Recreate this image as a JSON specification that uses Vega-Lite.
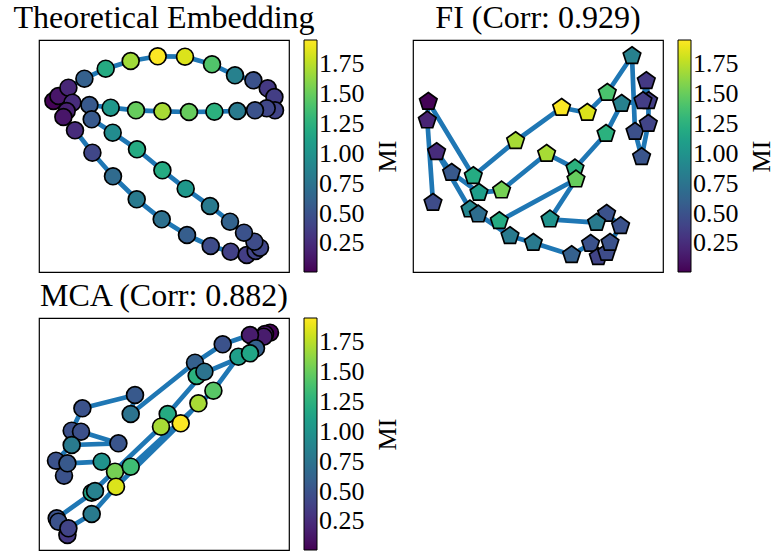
{
  "$schema": "https://vega.github.io/schema/vega-lite/v6.json",
  "background": "white",
  "padding": {"left": 12, "top": 1, "right": 0, "bottom": 0},
  "config": {
    "font": "Liberation Serif",
    "view": {"stroke": "black", "strokeWidth": 1.2},
    "title": {"font": "Liberation Serif", "fontSize": 32, "fontWeight": "normal", "anchor": "middle", "frame": "group", "baseline": "alphabetic", "offset": 5, "color": "black"},
    "legend": {"orient": "right", "offset": -96, "gradientLength": 232, "gradientThickness": 13, "gradientStrokeColor": "black", "gradientStrokeWidth": 1, "labelFont": "Liberation Serif", "labelFontSize": 26, "labelColor": "black", "labelOffset": 13, "labelOverlap": false, "padding": 0},
    "axis": {"titleFont": "Liberation Serif", "titleFontSize": 26, "titleFontWeight": "normal", "titleColor": "black"}
  },
  "columns": 2,
  "spacing": {"row": 46, "column": 124},
  "bounds": "flush",
  "resolve": {"scale": {"color": "independent"}, "legend": {"color": "independent"}},
  "concat": [
    {
      "width": 250, "height": 232,
      "title": "Theoretical Embedding",
      "data": {"values": [
        {"i":1,"x":14.4,"y":171.0,"mi":0.02},
        {"i":2,"x":19.4,"y":176.0,"mi":0.12},
        {"i":3,"x":29.4,"y":184.3,"mi":0.22},
        {"i":4,"x":45.4,"y":193.3,"mi":0.6},
        {"i":5,"x":66.7,"y":203.3,"mi":1.2},
        {"i":6,"x":91.7,"y":211.0,"mi":1.68},
        {"i":7,"x":118.7,"y":215.7,"mi":1.95},
        {"i":8,"x":146.0,"y":215.3,"mi":1.85},
        {"i":9,"x":173.0,"y":207.7,"mi":1.42},
        {"i":10,"x":196.0,"y":196.7,"mi":0.85},
        {"i":11,"x":214.4,"y":191.7,"mi":0.5},
        {"i":12,"x":228.7,"y":183.7,"mi":0.33},
        {"i":13,"x":235.4,"y":175.0,"mi":0.36},
        {"i":14,"x":236.0,"y":161.7,"mi":0.4},
        {"i":15,"x":227.7,"y":163.7,"mi":0.42},
        {"i":16,"x":216.0,"y":161.7,"mi":0.5},
        {"i":17,"x":198.4,"y":161.0,"mi":0.8},
        {"i":18,"x":175.4,"y":160.3,"mi":1.25},
        {"i":19,"x":150.0,"y":160.0,"mi":1.5},
        {"i":20,"x":123.4,"y":160.7,"mi":1.7},
        {"i":21,"x":97.0,"y":161.7,"mi":1.5},
        {"i":22,"x":71.7,"y":164.3,"mi":1.05},
        {"i":23,"x":50.4,"y":167.0,"mi":0.55},
        {"i":24,"x":33.4,"y":169.3,"mi":0.25},
        {"i":25,"x":27.7,"y":161.0,"mi":0.18},
        {"i":26,"x":24.4,"y":155.0,"mi":0.12},
        {"i":27,"x":36.0,"y":141.7,"mi":0.25},
        {"i":28,"x":53.4,"y":119.3,"mi":0.42},
        {"i":29,"x":74.0,"y":95.7,"mi":0.68},
        {"i":30,"x":97.7,"y":72.7,"mi":0.8},
        {"i":31,"x":122.7,"y":52.7,"mi":0.72},
        {"i":32,"x":148.0,"y":37.0,"mi":0.58},
        {"i":33,"x":171.7,"y":26.0,"mi":0.45},
        {"i":34,"x":191.7,"y":20.3,"mi":0.38},
        {"i":35,"x":207.7,"y":17.0,"mi":0.36},
        {"i":36,"x":216.7,"y":21.0,"mi":0.4},
        {"i":37,"x":221.0,"y":24.3,"mi":0.42},
        {"i":38,"x":215.4,"y":30.3,"mi":0.45},
        {"i":39,"x":205.0,"y":39.3,"mi":0.5},
        {"i":40,"x":191.0,"y":50.3,"mi":0.62},
        {"i":41,"x":171.0,"y":66.0,"mi":0.8},
        {"i":42,"x":146.7,"y":83.3,"mi":1.05},
        {"i":43,"x":123.4,"y":101.7,"mi":1.2},
        {"i":44,"x":98.0,"y":122.7,"mi":1.2},
        {"i":45,"x":73.7,"y":139.3,"mi":0.95},
        {"i":46,"x":52.7,"y":152.7,"mi":0.55}
      ]},
      "encoding": {
        "x": {"field": "x", "type": "quantitative", "axis": null, "scale": {"domain": [0, 250], "nice": false, "zero": false}},
        "y": {"field": "y", "type": "quantitative", "scale": {"domain": [0, 232], "nice": false, "zero": false}, "axis": {"orient": "right", "title": "MI", "labels": false, "ticks": false, "domain": false, "grid": false, "titleAngle": 270, "titleBaseline": "middle", "titlePadding": 98}},
        "order": {"field": "i", "type": "quantitative"}
      },
      "layer": [
        {"mark": {"type": "line", "color": "#1f77b4", "strokeWidth": 4.7, "strokeJoin": "round"}},
        {"mark": {"type": "point", "shape": "circle", "filled": true, "size": 285, "stroke": "black", "strokeWidth": 1.7, "opacity": 1},
         "encoding": {
           "color": {"field": "mi", "type": "quantitative", "scale": {"scheme": "viridis", "domain": [0.01, 1.955], "nice": false, "zero": false}, "legend": {"title": null, "values": [0.25, 0.5, 0.75, 1, 1.25, 1.5, 1.75], "format": ".2f"}}}}
      ]
    },
    {
      "width": 250, "height": 232,
      "title": "FI (Corr: 0.929)",
      "data": {"values": [
        {"i":1,"x":20.0,"y":69.3,"mi":0.45},
        {"i":2,"x":14.3,"y":151.7,"mi":0.2},
        {"i":3,"x":15.3,"y":170.3,"mi":0.02},
        {"i":4,"x":60.3,"y":96.0,"mi":1.2},
        {"i":5,"x":102.6,"y":131.0,"mi":1.7},
        {"i":6,"x":148.6,"y":164.3,"mi":1.95},
        {"i":7,"x":174.3,"y":159.3,"mi":1.85},
        {"i":8,"x":194.3,"y":179.3,"mi":1.4},
        {"i":9,"x":219.0,"y":216.0,"mi":0.85},
        {"i":10,"x":222.0,"y":140.3,"mi":0.48},
        {"i":11,"x":228.6,"y":115.0,"mi":0.52},
        {"i":12,"x":235.3,"y":148.3,"mi":0.4},
        {"i":13,"x":235.6,"y":171.0,"mi":0.36},
        {"i":14,"x":233.3,"y":191.0,"mi":0.33},
        {"i":15,"x":230.0,"y":171.0,"mi":0.36},
        {"i":16,"x":208.6,"y":168.3,"mi":0.85},
        {"i":17,"x":193.0,"y":138.3,"mi":1.25},
        {"i":18,"x":162.0,"y":103.7,"mi":1.25},
        {"i":19,"x":133.6,"y":118.3,"mi":1.7},
        {"i":20,"x":88.6,"y":81.7,"mi":1.55},
        {"i":21,"x":66.0,"y":79.3,"mi":1.1},
        {"i":22,"x":38.6,"y":99.3,"mi":0.55},
        {"i":23,"x":23.6,"y":120.0,"mi":0.25},
        {"i":24,"x":57.0,"y":62.7,"mi":0.9},
        {"i":25,"x":65.3,"y":57.7,"mi":0.7},
        {"i":26,"x":97.0,"y":36.0,"mi":0.8},
        {"i":27,"x":120.3,"y":29.3,"mi":0.8},
        {"i":28,"x":158.6,"y":17.0,"mi":0.6},
        {"i":29,"x":177.6,"y":28.3,"mi":0.5},
        {"i":30,"x":185.3,"y":15.0,"mi":0.4},
        {"i":31,"x":193.6,"y":19.3,"mi":0.45},
        {"i":32,"x":197.0,"y":29.3,"mi":0.5},
        {"i":33,"x":207.6,"y":46.0,"mi":0.5},
        {"i":34,"x":193.6,"y":58.3,"mi":0.5},
        {"i":35,"x":183.6,"y":49.3,"mi":0.8},
        {"i":36,"x":137.0,"y":52.7,"mi":1.0},
        {"i":37,"x":163.0,"y":92.7,"mi":1.5},
        {"i":38,"x":86.3,"y":51.0,"mi":1.2}
      ]},
      "encoding": {
        "x": {"field": "x", "type": "quantitative", "axis": null, "scale": {"domain": [0, 250], "nice": false, "zero": false}},
        "y": {"field": "y", "type": "quantitative", "scale": {"domain": [0, 232], "nice": false, "zero": false}, "axis": {"orient": "right", "title": "MI", "labels": false, "ticks": false, "domain": false, "grid": false, "titleAngle": 270, "titleBaseline": "middle", "titlePadding": 98}},
        "order": {"field": "i", "type": "quantitative"}
      },
      "layer": [
        {"mark": {"type": "line", "color": "#1f77b4", "strokeWidth": 4.7, "strokeJoin": "round"}},
        {"mark": {"type": "point", "shape": "M0,-1L0.951,-0.309L0.588,0.809L-0.588,0.809L-0.951,-0.309Z", "filled": true, "size": 340, "stroke": "black", "strokeWidth": 1.7, "opacity": 1},
         "encoding": {
           "color": {"field": "mi", "type": "quantitative", "scale": {"scheme": "viridis", "domain": [0.01, 1.955], "nice": false, "zero": false}, "legend": {"title": null, "values": [0.25, 0.5, 0.75, 1, 1.25, 1.5, 1.75], "format": ".2f"}}}}
      ]
    },
    {
      "width": 250, "height": 232,
      "title": "MCA (Corr: 0.882)",
      "data": {"values": [
        {"i":1,"x":231.0,"y":217.3,"mi":0.02},
        {"i":2,"x":226.0,"y":216.0,"mi":0.1},
        {"i":3,"x":224.7,"y":213.3,"mi":0.15},
        {"i":4,"x":211.0,"y":215.0,"mi":0.15},
        {"i":5,"x":183.7,"y":205.7,"mi":0.5},
        {"i":6,"x":156.0,"y":187.3,"mi":0.6},
        {"i":7,"x":91.7,"y":136.0,"mi":0.75},
        {"i":8,"x":96.0,"y":155.0,"mi":0.55},
        {"i":9,"x":43.4,"y":141.7,"mi":0.5},
        {"i":10,"x":32.7,"y":119.3,"mi":0.48},
        {"i":11,"x":42.0,"y":118.3,"mi":0.48},
        {"i":12,"x":79.4,"y":106.7,"mi":0.52},
        {"i":13,"x":32.7,"y":105.0,"mi":0.8},
        {"i":14,"x":17.0,"y":89.3,"mi":0.5},
        {"i":15,"x":25.0,"y":74.3,"mi":0.5},
        {"i":16,"x":28.4,"y":86.7,"mi":0.55},
        {"i":17,"x":62.7,"y":88.3,"mi":1.0},
        {"i":18,"x":76.0,"y":78.3,"mi":1.55},
        {"i":19,"x":91.7,"y":83.3,"mi":1.35},
        {"i":20,"x":174.4,"y":159.3,"mi":1.45},
        {"i":21,"x":199.4,"y":193.3,"mi":1.1},
        {"i":22,"x":217.0,"y":201.7,"mi":0.6},
        {"i":23,"x":211.0,"y":196.7,"mi":1.15},
        {"i":24,"x":157.7,"y":174.0,"mi":1.25},
        {"i":25,"x":165.4,"y":178.3,"mi":0.75},
        {"i":26,"x":128.7,"y":136.0,"mi":1.2},
        {"i":27,"x":122.0,"y":123.3,"mi":1.7},
        {"i":28,"x":52.7,"y":57.3,"mi":1.15},
        {"i":29,"x":56.0,"y":59.0,"mi":0.85},
        {"i":30,"x":17.7,"y":31.7,"mi":0.5},
        {"i":31,"x":19.4,"y":28.3,"mi":0.5},
        {"i":32,"x":28.4,"y":15.0,"mi":0.33},
        {"i":33,"x":29.4,"y":21.7,"mi":0.4},
        {"i":34,"x":52.7,"y":36.0,"mi":0.8},
        {"i":35,"x":77.0,"y":63.3,"mi":1.85},
        {"i":36,"x":141.7,"y":126.7,"mi":1.95},
        {"i":37,"x":159.4,"y":146.7,"mi":1.7}
      ]},
      "encoding": {
        "x": {"field": "x", "type": "quantitative", "axis": null, "scale": {"domain": [0, 250], "nice": false, "zero": false}},
        "y": {"field": "y", "type": "quantitative", "scale": {"domain": [0, 232], "nice": false, "zero": false}, "axis": {"orient": "right", "title": "MI", "labels": false, "ticks": false, "domain": false, "grid": false, "titleAngle": 270, "titleBaseline": "middle", "titlePadding": 98}},
        "order": {"field": "i", "type": "quantitative"}
      },
      "layer": [
        {"mark": {"type": "line", "color": "#1f77b4", "strokeWidth": 4.7, "strokeJoin": "round"}},
        {"mark": {"type": "point", "shape": "circle", "filled": true, "size": 285, "stroke": "black", "strokeWidth": 1.7, "opacity": 1},
         "encoding": {
           "color": {"field": "mi", "type": "quantitative", "scale": {"scheme": "viridis", "domain": [0.01, 1.955], "nice": false, "zero": false}, "legend": {"title": null, "values": [0.25, 0.5, 0.75, 1, 1.25, 1.5, 1.75], "format": ".2f"}}}}
      ]
    }
  ]
}
